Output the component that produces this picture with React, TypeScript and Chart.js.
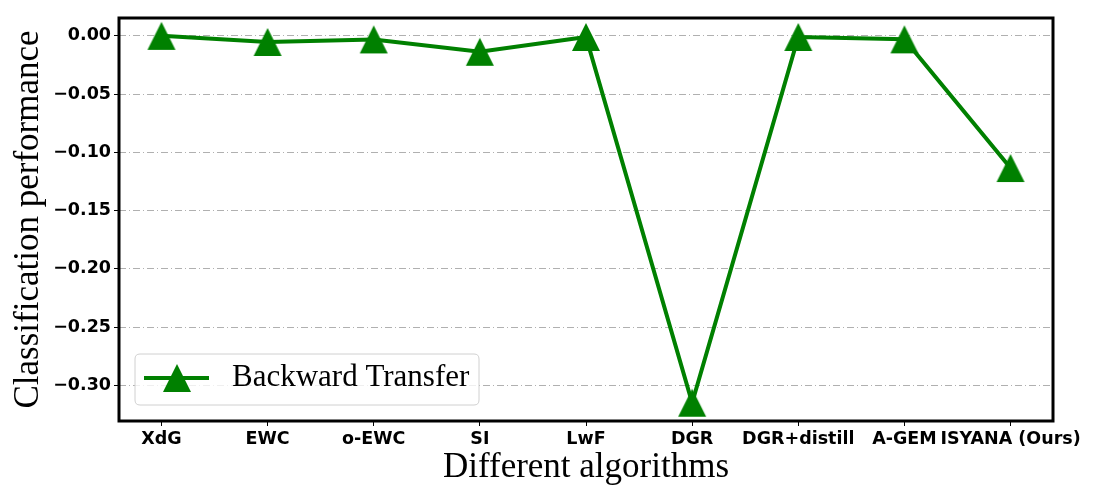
import React, { useEffect, useRef } from "react";
import { Chart, registerables } from "chart.js";

Chart.register(...registerables);

const categories = ["XdG", "EWC", "o-EWC", "SI", "LwF", "DGR", "DGR+distill", "A-GEM", "ISYANA (Ours)"];
const backwardTransfer = [0.0, -0.0053, -0.0031, -0.0137, -0.001, -0.315, -0.001, -0.003, -0.1135];
const yTicks = [0.0, -0.05, -0.1, -0.15, -0.2, -0.25, -0.3];
const seriesLabel = "Backward Transfer";
const xTitle = "Different algorithms";
const yTitle = "Classification performance";

const GREEN = "#008000";

function makeTriangle(): HTMLCanvasElement {
  const c = document.createElement("canvas");
  c.width = 30;
  c.height = 30;
  const g = c.getContext("2d")!;
  g.fillStyle = GREEN;
  g.beginPath();
  g.moveTo(15, 1);
  g.lineTo(1, 29);
  g.lineTo(29, 29);
  g.closePath();
  g.fill();
  return c;
}

export default function App() {
  const ref = useRef<HTMLCanvasElement | null>(null);

  useEffect(() => {
    if (!ref.current) return;
    const tri = makeTriangle();
    const serif = "'Liberation Serif', 'DejaVu Serif', serif";
    const sans = "'DejaVu Sans', sans-serif";

    const framePlugin = {
      id: "frameAndLegend",
      afterDatasetsDraw(chart: any) {
        const { ctx, chartArea } = chart;
        const { left, top, right, bottom } = chartArea;
        ctx.save();
        // legend
        const lx = 135, ly = 354, lw = 344, lh = 51, r = 5;
        ctx.beginPath();
        ctx.moveTo(lx + r, ly);
        ctx.lineTo(lx + lw - r, ly);
        ctx.quadraticCurveTo(lx + lw, ly, lx + lw, ly + r);
        ctx.lineTo(lx + lw, ly + lh - r);
        ctx.quadraticCurveTo(lx + lw, ly + lh, lx + lw - r, ly + lh);
        ctx.lineTo(lx + r, ly + lh);
        ctx.quadraticCurveTo(lx, ly + lh, lx, ly + lh - r);
        ctx.lineTo(lx, ly + r);
        ctx.quadraticCurveTo(lx, ly, lx + r, ly);
        ctx.closePath();
        ctx.fillStyle = "rgba(255,255,255,0.8)";
        ctx.fill();
        ctx.strokeStyle = "#d0d0d0";
        ctx.lineWidth = 1;
        ctx.stroke();
        const cy = ly + 24;
        ctx.strokeStyle = GREEN;
        ctx.lineWidth = 4;
        ctx.beginPath();
        ctx.moveTo(144, cy);
        ctx.lineTo(209, cy);
        ctx.stroke();
        ctx.drawImage(tri, 177 - 15, cy - 15);
        ctx.fillStyle = "#000";
        ctx.font = `31px ${serif}`;
        ctx.textBaseline = "middle";
        ctx.textAlign = "left";
        ctx.fillText(seriesLabel, 232, cy);
        // frame
        ctx.strokeStyle = "#000";
        ctx.lineWidth = 3;
        ctx.strokeRect(left, top, right - left, bottom - top);
        ctx.restore();
      },
    };

    const chart = new Chart(ref.current, {
      type: "line",
      data: {
        datasets: [
          {
            label: seriesLabel,
            data: backwardTransfer.map((v, i) => ({ x: i, y: v })),
            borderColor: GREEN,
            backgroundColor: GREEN,
            borderWidth: 4,
            pointStyle: tri as any,
            pointRadius: 14,
            pointHoverRadius: 14,
            tension: 0,
          },
        ],
      },
      plugins: [framePlugin],
      options: {
        animation: false,
        responsive: false,
        events: [],
        layout: { padding: { left: 0, top: 13, right: 47, bottom: 0 } },
        plugins: { legend: { display: false }, tooltip: { enabled: false } },
        scales: {
          x: {
            type: "linear",
            min: -0.4,
            max: categories.length - 1 + 0.4,
            afterBuildTicks: (scale: any) => {
              scale.ticks = categories.map((_, i) => ({ value: i }));
            },
            afterFit: (scale: any) => {
              scale.height = 79;
            },
            ticks: {
              callback: (v: any) => categories[Math.round(Number(v))] ?? "",
              font: { family: sans, size: 17.5, weight: "bold" },
              color: "#000",
              padding: 3,
              maxRotation: 0,
              autoSkip: false,
            },
            grid: { drawOnChartArea: false, drawTicks: true, tickLength: 5, color: "#000", tickWidth: 1 },
            border: { display: false },
            title: {
              display: true,
              text: xTitle,
              font: { family: serif, size: 35 },
              color: "#000",
              padding: { top: 0, bottom: 11 },
            },
          },
          y: {
            min: -0.3307,
            max: 0.0153,
            afterBuildTicks: (scale: any) => {
              scale.ticks = yTicks.map((v) => ({ value: v }));
            },
            afterFit: (scale: any) => {
              scale.width = 119;
            },
            ticks: {
              callback: (v: any) => {
                const n = Number(v);
                const s = Math.abs(n).toFixed(2);
                return n < -1e-9 ? "\u2212" + s : s;
              },
              font: { family: sans, size: 17.5, weight: "bold" },
              color: "#000",
              padding: 3,
            },
            grid: {
              drawOnChartArea: true,
              drawTicks: true,
              tickLength: 5,
              color: "#b0b0b0",
              lineWidth: 1,
              tickColor: "#000",
              tickWidth: 1,
              tickBorderDash: [],
            },
            border: { display: false, dash: [7, 3, 1, 3] },
            title: {
              display: true,
              text: yTitle,
              font: { family: serif, size: 35 },
              color: "#000",
              padding: { top: 8, bottom: 0 },
            },
          },
        },
      },
    });
    return () => chart.destroy();
  }, []);

  return (
    <div style={{ position: "fixed", left: 0, top: 0, width: 1100, height: 500, background: "#fff" }}>
      <canvas ref={ref} width={1100} height={500} style={{ width: 1100, height: 500 }} />
    </div>
  );
}
